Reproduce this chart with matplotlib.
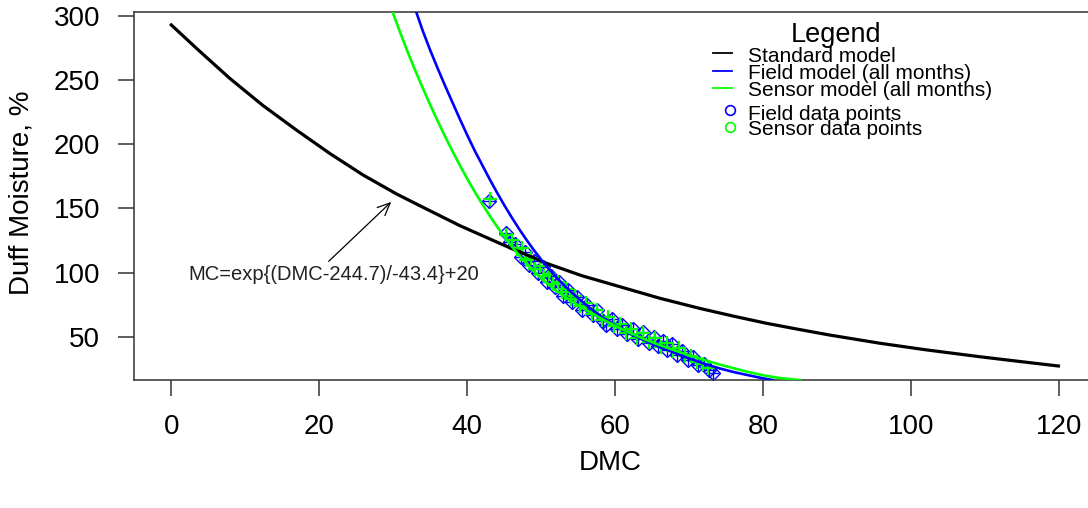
import matplotlib.pyplot as plt
from matplotlib.lines import Line2D

plt.rcParams['font.family'] = ['Liberation Sans', 'DejaVu Sans']

# curves (DMC, moisture %)
std_dmc = [0, 3.4, 7.9, 12.4, 16.9, 21.4, 25.9, 30.5, 33.6, 39.0, 44.9, 50.7,
           55.5, 60.6, 66.0, 71.4, 76.0, 80.5, 85.0, 89.0, 95.8, 102.0, 109.3, 115.0, 119.9]
std_mc = [292.8, 274.6, 251.2, 230.0, 211.0, 192.8, 176.0, 161.0, 152.0, 136.5, 121.4, 107.2,
          97.5, 89.0, 80.0, 72.1, 66.0, 60.4, 55.5, 51.3, 44.9, 39.8, 34.4, 30.5, 27.2]

field_dmc = [33.1, 34, 35, 36, 37, 38, 39, 40, 41, 42, 43, 44, 45, 46, 47, 48, 49, 50,
             51, 52, 53, 54, 56, 58, 60, 62, 64, 66, 68, 70, 72, 74, 76, 78, 80, 81.3]
field_mc = [303, 288, 273, 259, 245.5, 232.5, 219.5, 207, 195, 184, 173, 162.5, 152.5,
            143, 134, 125.5, 117.5, 110, 103, 96.5, 90.5, 85, 75, 66, 59, 52.5, 47,
            42, 37.5, 33, 29, 25.5, 22.5, 20, 17.6, 16.3]

sensor_dmc = [29.9, 31, 32, 33, 34, 35, 36, 37, 38, 39, 40, 41, 42, 43, 44, 45, 46, 47,
              48, 49, 50, 52, 54, 56, 58, 60, 62, 64, 66, 68, 70, 72, 74, 76, 78, 80,
              82, 84, 85]
sensor_mc = [303, 286, 271, 257, 243.5, 230.5, 218, 206, 194.5, 183.5, 173, 163, 153.5,
             144.5, 136, 128, 120.5, 113.5, 107, 101, 95.5, 86, 78, 71, 64.5, 58.5, 53,
             48, 43.5, 39.5, 35.5, 32, 28.5, 25.5, 22.5, 20, 18, 16.8, 16.3]

# observed points
pts_field_x = [43.0, 45.2, 45.8, 46.5, 47.3, 47.8, 48.4, 49.0, 49.5, 50.2, 50.8, 51.3,
               51.9, 52.4, 53.0, 53.6, 54.1, 54.8, 55.5, 56.2, 57.0, 57.6, 58.3, 58.8,
               59.5, 60.2, 60.9, 61.6, 62.4, 63.1, 63.8, 64.5, 65.2, 65.8, 66.4, 67.0,
               67.7, 68.4, 69.0, 69.8, 70.5, 71.2, 72.0, 72.7, 73.2]
pts_field_y = [156, 131, 124, 122, 112, 116, 106, 109, 100, 104, 93, 97,
               89, 93, 82, 86, 77, 81, 71, 75, 67, 71, 62, 59,
               64, 56, 59, 52, 56, 48, 54, 45, 50, 43, 47, 40,
               44, 36, 39, 32, 34, 28, 29, 24, 22]
pts_sensor_x = [43.1, 45.3, 46.0, 46.7, 47.4, 48.0, 48.6, 49.2, 49.8, 50.4, 51.0, 51.6,
                52.2, 52.8, 53.4, 54.0, 54.6, 55.3, 56.0, 56.8, 57.5, 58.2, 59.0, 59.8,
                60.6, 61.4, 62.2, 63.0, 63.8, 64.6, 65.4, 66.2, 67.0, 67.8, 68.6, 69.4,
                70.2, 71.0, 71.8, 72.6]
pts_sensor_y = [157, 129, 125, 118, 119, 110, 111, 103, 105, 97, 99, 91,
                93, 85, 87, 79, 82, 74, 76, 68, 71, 63, 65, 58,
                60, 53, 56, 49, 53, 46, 49, 42, 45, 39, 41, 35,
                35, 30, 29, 26]

annot_text = "MC=exp{(DMC-244.7)/-43.4}+20"

W, H = 1088, 508
fig = plt.figure(figsize=(W / 100, H / 100), dpi=100)
ax = fig.add_axes([134 / W, 1 - 380 / H, 1 - 134 / W, (380 - 11.7) / H])


def px(x, y):
    return x / W, 1 - y / H


# points first, curves on top
ax.plot(pts_field_x, pts_field_y, ls='none', marker='D', ms=7, mfc='none',
        mec='#0000ff', mew=1.0, zorder=2)
ax.plot(pts_field_x, pts_field_y, ls='none', marker='+', ms=9, mec='#0000ff',
        mew=1.0, zorder=2)
ax.plot(pts_sensor_x, pts_sensor_y, ls='none', marker='+', ms=10, mec='#00ff00',
        mew=1.6, zorder=3)

ax.plot(std_dmc, std_mc, color='black', lw=2.3, zorder=4)
ax.plot(field_dmc, field_mc, color='#0000ff', lw=1.9, zorder=4)
ax.plot(sensor_dmc, sensor_mc, color='#00ff00', lw=1.9, zorder=4)

ax.annotate('', xy=(30.0, 156.5), xytext=(21.0, 107.2),
            arrowprops=dict(arrowstyle='->,head_length=0.9,head_width=0.4',
                            color='black', lw=0.9))
ax.text(2.3, 98.8, annot_text, fontsize=14.5, color='#222222',
        ha='left', va='center')

ax.set_xlim(-5.04, 123.9)
ax.set_ylim(16.3, 303.1)
ax.set_xticks([0, 20, 40, 60, 80, 100, 120])
ax.set_yticks([50, 100, 150, 200, 250, 300])
ax.tick_params(labelsize=20, length=11.5, width=1.1, color='#333333', pad=13)
ax.spines['right'].set_visible(False)
for s in ['left', 'top', 'bottom']:
    ax.spines[s].set_linewidth(1.1)
    ax.spines[s].set_color('#333333')

fig.text(*px(22, 193), 'Duff Moisture, %', rotation=90, fontsize=20,
         ha='center', va='center')
fig.text(*px(610, 463), 'DMC', fontsize=20, ha='center', va='center')

# legend, drawn by hand to match the tight R layout
fig.text(*px(836, 41.7), 'Legend', fontsize=19.5, ha='center', va='baseline')
leg_rows = [('Standard model', 'black', 'line', 61.7, 52.7),
            ('Field model (all months)', '#0000ff', 'line', 79.3, 71.0),
            ('Sensor model (all months)', '#00ff00', 'line', 96.0, 87.7),
            ('Field data points', '#0000ff', 'pt', 120.0, 110.0),
            ('Sensor data points', '#00ff00', 'pt', 135.0, 127.3)]
for label, col, kind, base_y, mark_y in leg_rows:
    fig.text(*px(748, base_y), label, fontsize=15, ha='left', va='baseline')
    if kind == 'line':
        x0, y0 = px(713, mark_y)
        x1, _ = px(732, mark_y)
        fig.add_artist(Line2D([x0, x1], [y0, y0], color=col, lw=1.3,
                              transform=fig.transFigure))
    else:
        cx, cy = px(730, mark_y)
        fig.add_artist(Line2D([cx], [cy], ls='none', marker='o', ms=7,
                              mfc='none', mec=col, mew=1.2,
                              transform=fig.transFigure))

fig.savefig('out.png', dpi=100)
